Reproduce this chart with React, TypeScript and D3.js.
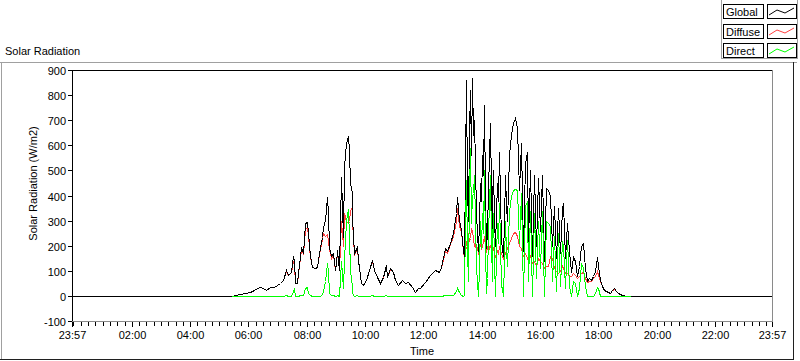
import React from "react";
import * as d3 from "d3";

// ---- data ----
const times = [
  "23:57", "05:24", "05:43", "05:52", "06:03", "06:12", "06:18", "06:24", "06:30", "06:37",
  "06:44", "06:52", "06:58", "07:05", "07:11", "07:17", "07:22", "07:27", "07:31", "07:34",
  "07:36", "07:39", "07:42", "07:46", "07:49", "07:53", "07:56", "08:00", "08:03", "08:07",
  "08:10", "08:17", "08:22", "08:26", "08:31", "08:34", "08:37", "08:41", "08:43", "08:46",
  "08:50", "08:53", "08:57", "09:00", "09:03", "09:07", "09:10", "09:14", "09:17", "09:21",
  "09:24", "09:27", "09:29", "09:32", "09:34", "09:38", "09:43", "09:46", "09:51", "09:56",
  "10:01", "10:07", "10:14", "10:18", "10:24", "10:31", "10:37", "10:43", "10:46", "10:51",
  "10:57", "11:01", "11:08", "11:15", "11:22", "11:29", "11:36", "11:43", "11:49", "11:53",
  "12:03", "12:13", "12:24", "12:31", "12:37", "12:44", "12:48", "12:55", "13:01", "13:07",
  "13:10", "13:14", "13:17", "13:21",
  "13:24", "13:26", "13:28", "13:30", "13:32", "13:34", "13:36", "13:38", "13:40", "13:42",
  "13:44", "13:46", "13:48", "13:50", "13:52", "13:54", "13:56", "13:58",
  "14:00", "14:02", "14:04", "14:06", "14:08", "14:10", "14:12", "14:14", "14:16", "14:18",
  "14:20", "14:22", "14:24", "14:26", "14:28", "14:30", "14:32", "14:34", "14:36", "14:38",
  "14:40", "14:42", "14:44", "14:46", "14:48", "14:50", "14:52", "14:54", "14:56",
  "15:00", "15:04", "15:08", "15:12", "15:16", "15:20", "15:24", "15:28", "15:32", "15:36", "15:40", "15:44", "15:48", "15:52", "15:56",
  "16:00", "16:04", "16:08", "16:12", "16:16", "16:20", "16:24", "16:28", "16:32", "16:36", "16:40", "16:44", "16:48", "16:52", "16:56",
  "17:00", "17:04", "17:08", "17:12", "17:16", "17:20", "17:24", "17:28", "17:32", "17:36", "17:40", "17:44", "17:48", "17:52", "17:56",
  "18:00", "18:04", "18:08", "18:12", "18:16", "18:20", "18:24", "18:28", "18:32", "18:36", "18:40",
  "18:48", "18:56", "19:04", "23:57",
];

const globalRad = [
  0, 0, 8, 12, 15, 22, 30, 37, 30, 24,
  37, 35, 45, 50, 64, 103, 84, 97, 157, 143,
  50, 50, 90, 157, 196, 170, 289, 296, 250, 157,
  117, 110, 117, 170, 236, 276, 303, 396, 329, 196,
  157, 170, 103, 130, 183, 103, 475, 236, 515, 608,
  637, 581, 448, 409, 316, 170, 196, 143, 50, 44,
  64, 103, 143, 103, 77, 50, 77, 123, 77, 110,
  97, 64, 44, 64, 50, 57, 37, 17, 30, 30,
  57, 84, 103, 97, 117, 190, 177, 210, 250, 329,
  396, 303, 263, 183,
  157, 500, 860, 420, 300, 650, 820, 560, 870, 640,
  700, 520, 330, 250, 180, 300, 450, 380,
  560, 480, 760, 400, 190, 260, 420, 560, 690, 420,
  240, 380, 500, 310, 200, 330, 450, 380, 575, 400,
  220, 190, 160, 300, 480, 360, 300, 420, 560,
  640, 690, 708, 670, 420, 610, 180, 530, 575, 220, 500, 160, 480, 200, 470,
  260, 480, 140, 430, 420, 400, 200, 360, 150, 350, 170, 347, 369, 150, 290,
  180, 95, 156, 140, 80, 120, 198, 210, 110, 60, 70, 63, 80, 100, 156,
  120, 64, 40, 24, 20, 15, 13, 25, 30, 20, 12,
  5, 1, 0, 0,
];

const diffuseRad = [
  null, 0, 8, 12, 15, 22, 30, 37, 30, 24,
  37, 35, 45, 50, 64, 100, 84, 95, 140, 125,
  50, 50, 88, 150, 185, 165, 265, 275, 240, 155,
  117, 110, 117, 168, 225, 250, 240, 245, 220, 185,
  152, 165, 103, 128, 178, 103, 300, 200, 330, 300,
  290, 300, 340, 360, 300, 168, 190, 143, 50, 44,
  64, 103, 140, 103, 77, 50, 77, 120, 77, 108,
  97, 64, 44, 64, 50, 57, 37, 17, 30, 30,
  57, 84, 103, 97, 115, 180, 172, 205, 240, 300,
  350, 280, 255, 180,
  150, 180, 200, 240, 250, 220, 230, 270, 260, 230,
  200, 210, 180, 190, 170, 180, 210, 190,
  200, 220, 240, 200, 180, 190, 210, 190, 200, 210,
  170, 180, 190, 170, 160, 170, 180, 170, 200, 180,
  170, 160, 150, 160, 170, 180, 190, 200, 210,
  230, 250, 255, 240, 200, 190, 160, 170, 150, 140, 160, 130, 140, 120, 150,
  140, 130, 110, 120, 120, 160, 150, 110, 100, 90, 100, 120, 110, 90, 90,
  80, 80, 90, 85, 70, 80, 90, 95, 70, 55, 60, 60, 70, 80, 100,
  84, 60, 38, 22, 18, 14, 12, 24, 28, 18, 10,
  4, 1, 0, null,
];

const directRad = [
  null, 0, 0, 0, 0, 0, 0, 0, 0, 0,
  0, 0, 0, 0, 0, 2, 0, 0, 20, 30,
  0, 0, 0, 3, 5, 2, 30, 35, 10, 2,
  0, 0, 0, 0, 5, 20, 60, 130, 100, 10,
  5, 3, 0, 0, 3, 0, 140, 30, 143, 300,
  345, 236, 103, 37, 10, 0, 5, 0, 0, 0,
  0, 0, 2, 0, 0, 0, 0, 2, 0, 0,
  0, 0, 0, 0, 0, 0, 0, 0, 0, 0,
  0, 0, 0, 0, 0, 5, 2, 2, 5, 20,
  30, 15, 5, 0,
  5, 300, 460, 180, 60, 420, 590, 290, 400, 410,
  480, 300, 120, 50, 0, 110, 300, 190,
  330, 250, 500, 190, 10, 70, 250, 370, 480, 210,
  60, 200, 330, 140, 0, 160, 290, 210, 370, 220,
  40, 30, 0, 140, 300, 180, 120, 220, 340,
  400, 420, 425, 420, 210, 410, 0, 360, 380, 60, 340, 0, 330, 70, 300,
  110, 340, 0, 300, 290, 280, 60, 240, 20, 250, 40, 220, 200, 30, 223,
  40, 0, 60, 50, 0, 30, 130, 110, 40, 0, 0, 0, 0, 10, 37,
  30, 0, 0, 0, 0, 0, 0, 0, 0, 0, 0,
  0, 0, 0, null,
];

const yTickValues = [-100, 0, 100, 200, 300, 400, 500, 600, 700, 800, 900];
const xTickLabels = ["23:57", "02:00", "04:00", "06:00", "08:00", "10:00", "12:00", "14:00", "16:00", "18:00", "20:00", "22:00", "23:57"];
const seriesNames = ["Global", "Diffuse", "Direct"];
const seriesColors = ["#000000", "#ff4040", "#00ff00"];

const FONT = "'Liberation Sans', Arial, sans-serif";

function toMinutes(s: string, i: number): number {
  const [h, m] = s.split(":").map(Number);
  let v = h * 60 + m;
  if (i === 0) v -= 1440; // start is 23:57 of the previous day
  return v;
}

export default function App() {
  const W = 800, H = 361;
  const left = 72, right = 772, top = 70, bottom = 321;
  const mins = times.map(toMinutes);
  const x = d3.scaleLinear().domain([-3, 1437]).range([left, right]);
  const y = d3.scaleLinear().domain([-100, 900]).range([bottom, top]);

  const makePath = (vals: (number | null)[]) =>
    d3.line<number | null>()
      .defined((d) => d != null)
      .x((_, i) => Math.round(x(mins[i])) + 0.5)
      .y((d) => Math.round(y(d as number)) + 0.5)(vals) || "";

  const xMajor = xTickLabels.map((lab, i) => {
    const v = i === 0 ? -3 : i === xTickLabels.length - 1 ? 1437 : toMinutes(lab, 1);
    return { v, lab };
  });
  const xMinor = d3.range(0, 1440, 15).filter((m) => m % 120 !== 0 || m === 0);

  const series = [globalRad, diffuseRad, directRad];
  const drawOrder = [1, 0, 2];

  return (
    <svg width={W} height={H} style={{ position: "absolute", left: 0, top: 0, display: "block" }} fontFamily={FONT}>
      <rect x={0} y={0} width={W} height={H} fill="#ffffff" />
      {/* panel frame */}
      <line x1={0} y1={62.5} x2={797} y2={62.5} stroke="#a0a0a0" />
      <line x1={1.5} y1={62} x2={1.5} y2={360} stroke="#a0a0a0" />
      <line x1={793.5} y1={62} x2={793.5} y2={360} stroke="#202020" />
      <line x1={0} y1={359.5} x2={794} y2={359.5} stroke="#202020" />
      <text x={5} y={55} fontSize={11} fill="#000">Solar Radiation</text>

      {/* legend */}
      <rect x={721.5} y={-1} width={76} height={59.5} fill="#ffffff" stroke="#a0a0a0" />
      {seriesNames.map((name, i) => {
        const ry = 4 + i * 19.5;
        return (
          <g key={name}>
            <rect x={723.5} y={Math.round(ry) + 0.5} width={40} height={14} fill="#fff" stroke="#000" />
            <text x={726} y={Math.round(ry) + 11.5} fontSize={11} fill="#000">{name}</text>
            <rect x={767.5} y={Math.round(ry) + 0.5} width={29} height={14} fill="#fff" stroke="#000" />
            <polyline
              points={`${769},${Math.round(ry) + 11} ${777},${Math.round(ry) + 6} ${785},${Math.round(ry) + 9} ${794},${Math.round(ry) + 4}`}
              fill="none"
              stroke={seriesColors[i]}
              strokeWidth={1}
            />
          </g>
        );
      })}

      {/* plot area */}
      <rect x={left} y={top} width={right - left} height={bottom - top} fill="#ffffff" />

      {/* data */}
      <g shapeRendering="crispEdges">
        {drawOrder.map((si) => (
          <path key={si} d={makePath(series[si])} fill="none" stroke={seriesColors[si]} strokeWidth={1} />
        ))}
      </g>

      {/* plot border */}
      <line x1={left + 0.5} y1={top} x2={left + 0.5} y2={bottom + 1} stroke="#000" />
      <line x1={left} y1={top + 0.5} x2={right + 1} y2={top + 0.5} stroke="#000" />
      <line x1={right + 0.5} y1={top} x2={right + 0.5} y2={bottom + 1} stroke="#8a8a8a" />
      <line x1={left} y1={bottom + 0.5} x2={right + 1} y2={bottom + 0.5} stroke="#8a8a8a" />

      {/* y axis */}
      {yTickValues.map((v) => {
        const yy = Math.round(y(v)) + 0.5;
        return (
          <g key={v}>
            <line x1={68} y1={yy} x2={72} y2={yy} stroke="#000" />
            <text x={66} y={yy + 4} fontSize={11} textAnchor="end" fill="#000">{v}</text>
          </g>
        );
      })}
      <text transform={`translate(37,${(top + bottom) / 2 - 12}) rotate(-90)`} fontSize={11} textAnchor="middle" fill="#000">
        Solar Radiation (W/m2)
      </text>

      {/* x axis */}
      {xMinor.map((m) => {
        const xx = Math.round(x(m)) + 0.5;
        return <line key={"m" + m} x1={xx} y1={bottom + 1} x2={xx} y2={bottom + 5} stroke="#000" />;
      })}
      {xMajor.map(({ v, lab }, i) => {
        const xx = Math.round(x(v)) + 0.5;
        return (
          <g key={"M" + i}>
            <line x1={xx} y1={bottom + 1} x2={xx} y2={bottom + 6} stroke="#000" />
            <text x={xx} y={339} fontSize={11} textAnchor="middle" fill="#000">{lab}</text>
          </g>
        );
      })}
      <text x={(left + right) / 2} y={355} fontSize={11} textAnchor="middle" fill="#000">Time</text>
    </svg>
  );
}
